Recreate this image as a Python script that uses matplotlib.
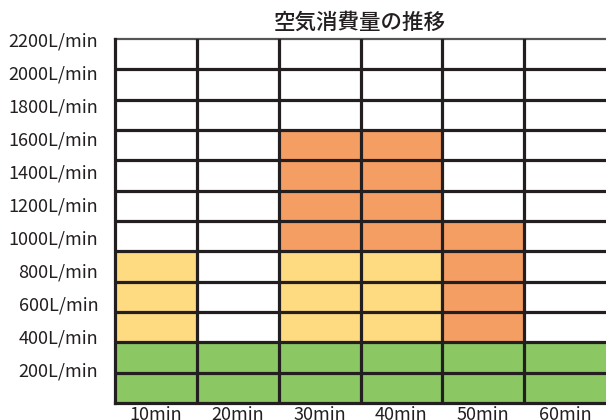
import matplotlib
matplotlib.use("Agg")
import matplotlib.pyplot as plt
import numpy as np

plt.rcParams['font.family'] = ['Noto Sans CJK JP', 'DejaVu Sans']

# Data (cell counts per column; 12 equal cells span 0..2200 L/min)
minutes = ['10min', '20min', '30min', '40min', '50min', '60min']
green_cells = [2, 2, 2, 2, 2, 2]
yellow_cells = [3, 0, 3, 3, 0, 0]
orange_cells = [0, 0, 4, 4, 4, 0]
y_tick_values = [200, 400, 600, 800, 1000, 1200, 1400, 1600, 1800, 2000, 2200]
y_tick_labels = [f'{v}L/min' for v in y_tick_values]
title = '空気消費量の推移'

y_max = 2200
n_cells = 12
cell = y_max / n_cells

green_c = '#8bc763'
yellow_c = '#fedb80'
orange_c = '#f59e63'
line_c = '#231f20'

fig = plt.figure(figsize=(6.06, 4.2), dpi=100)
ax = fig.add_axes([115 / 606, 17 / 420, 491 / 606, 364 / 420])

x = np.arange(len(minutes))
g = np.array(green_cells) * cell
yv = np.array(yellow_cells) * cell
o = np.array(orange_cells) * cell
ax.bar(x, g, width=1.0, color=green_c, linewidth=0)
ax.bar(x, yv, width=1.0, bottom=g, color=yellow_c, linewidth=0)
ax.bar(x, o, width=1.0, bottom=g + yv, color=orange_c, linewidth=0)

ax.set_xlim(-0.5, len(minutes) - 0.5)
ax.set_ylim(0, y_max)

# grid of cells
for k in range(1, n_cells):
    ax.axhline(k * cell, color=line_c, lw=2.3, zorder=3)
for k in range(1, len(minutes)):
    ax.axvline(k - 0.5, color=line_c, lw=2.3, zorder=3)

ax.set_yticks(y_tick_values)
ax.set_yticklabels(y_tick_labels, fontsize=13, color='#231f20')
ax.set_xticks(x)
ax.set_xticklabels(minutes, fontsize=13, color='#231f20')
ax.tick_params(axis='y', length=0, pad=12)
ax.tick_params(axis='x', length=0, pad=2)

for s in ['left', 'bottom']:
    ax.spines[s].set_color(line_c)
    ax.spines[s].set_linewidth(2.3)
    ax.spines[s].set_zorder(4)
ax.spines['top'].set_color('#555555')
ax.spines['top'].set_linewidth(1.6)
ax.spines['right'].set_visible(False)

fig.text(360 / 606, 1 - 22.5 / 420, title, fontsize=15.5, fontweight='medium',
         ha='center', va='center', color='#231f20')

fig.savefig('out.png', dpi=100)
